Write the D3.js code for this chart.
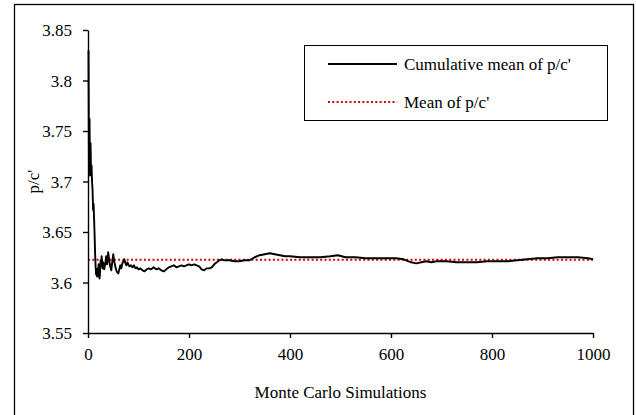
<!DOCTYPE html>
<html>
<head>
<meta charset="utf-8">
<script src="https://cdn.jsdelivr.net/npm/d3@7/dist/d3.min.js"></script>
<style>
  html, body { margin: 0; padding: 0; background: #fff; }
  svg { display: block; }
  svg text { font-family: "Liberation Serif", "DejaVu Serif", serif !important; fill: #000; }
</style>
</head>
<body>
<svg id="chart" width="636" height="415"></svg>
<script>
// ---- data ----
const simIndex = [1,2,3,4,5,6,7,8,9,10,11,12,13,14,15,16,17,18,19,20,21,22,23,24,25,26,27,28,29,30,
  32,34,36,38,40,42,44,46,48,50,52,54,56,58,60,62,64,66,68,70,72,74,76,78,80,82,85,88,91,94,97,100,
  104,108,112,116,120,125,130,135,140,145,150,155,160,165,170,175,180,185,190,195,200,205,210,215,220,
  225,230,235,240,245,250,255,260,265,270,280,290,300,310,320,330,340,350,360,370,380,390,400,420,440,
  460,480,495,510,530,550,570,590,610,625,640,650,660,670,680,690,710,730,750,770,790,810,830,850,870,
  890,910,930,950,970,990,1000];
const cumMean = [3.830,3.712,3.762,3.706,3.738,3.710,3.716,3.700,3.692,3.672,3.678,3.664,3.648,3.630,3.616,
  3.608,3.612,3.606,3.614,3.610,3.618,3.606,3.604,3.612,3.622,3.616,3.626,3.618,3.614,3.620,
  3.613,3.618,3.626,3.618,3.630,3.622,3.616,3.612,3.620,3.628,3.621,3.616,3.612,3.610,3.609,3.613,3.617,
  3.614,3.619,3.621,3.623,3.619,3.617,3.620,3.618,3.616,3.617,3.615,3.617,3.614,3.615,3.613,
  3.614,3.612,3.611,3.613,3.614,3.613,3.615,3.613,3.614,3.612,3.611,3.613,3.615,3.616,3.617,3.615,
  3.616,3.617,3.616,3.617,3.618,3.617,3.618,3.617,3.616,3.613,3.612,3.614,3.614,3.615,3.618,3.620,
  3.622,3.623,3.622,3.622,3.621,3.621,3.622,3.622,3.625,3.627,3.628,3.629,3.628,3.627,3.626,3.626,
  3.625,3.625,3.625,3.626,3.627,3.625,3.625,3.624,3.624,3.624,3.624,3.623,3.620,3.619,3.620,3.621,
  3.620,3.621,3.621,3.620,3.620,3.620,3.621,3.621,3.621,3.622,3.623,3.624,3.624,3.625,3.625,3.625,
  3.624,3.623];
const overallMean = 3.6225;
const xTicks = [0, 200, 400, 600, 800, 1000];
const yTicks = [3.55, 3.6, 3.65, 3.7, 3.75, 3.8, 3.85];
const yTickLabels = ["3.55", "3.6", "3.65", "3.7", "3.75", "3.8", "3.85"];
const seriesNames = ["Cumulative mean of p/c'", "Mean of p/c'"];
const xTitle = "Monte Carlo Simulations";
const yTitle = "p/c'";

// ---- drawing ----
const FONT = "'Liberation Serif', 'DejaVu Serif', serif";
const svg = d3.select("#chart").attr("font-family", FONT);
const red = "#d80000";

svg.append("rect").attr("x", 14.5).attr("y", 4.5).attr("width", 619).attr("height", 420)
  .attr("fill", "#fff").attr("stroke", "#000").attr("stroke-width", 1.3);

const x = d3.scaleLinear().domain([0, 1000]).range([88, 593]);
const y = d3.scaleLinear().domain([3.55, 3.85]).range([333, 30]);

// mean line
svg.append("line")
  .attr("x1", x(0)).attr("x2", x(1000))
  .attr("y1", y(overallMean)).attr("y2", y(overallMean))
  .attr("stroke", red).attr("stroke-width", 2).attr("stroke-dasharray", "2,2.3");

// cumulative line
const pts = simIndex.map((d, i) => [d, cumMean[i]]);
svg.append("path")
  .datum(pts)
  .attr("fill", "none").attr("stroke", "#000").attr("stroke-width", 1.9)
  .attr("stroke-linejoin", "round")
  .attr("d", d3.line().x(d => x(d[0])).y(d => y(d[1])));

// axes
const xAxis = svg.append("g").attr("transform", "translate(0,333)")
  .call(d3.axisBottom(x).tickValues(xTicks).tickSize(5).tickPadding(10).tickSizeOuter(0).tickFormat(d3.format("d")));
const yAxis = svg.append("g").attr("transform", "translate(88,0)")
  .call(d3.axisLeft(y).tickValues(yTicks).tickSize(5).tickPadding(11).tickSizeOuter(0)
    .tickFormat((d, i) => yTickLabels[i]));
[xAxis, yAxis].forEach(g => {
  g.attr("font-family", FONT).attr("font-size", 17);
  g.selectAll("path.domain").attr("stroke", "#000").attr("stroke-width", 1.4);
  g.selectAll(".tick line").attr("stroke", "#000").attr("stroke-width", 1.4);
  g.selectAll(".tick text").attr("fill", "#000").attr("font-family", FONT).attr("font-size", 17);
});
yAxis.selectAll(".tick text").attr("dy", "0.34em");

// titles
svg.append("text").attr("x", (x(0) + x(1000)) / 2).attr("y", 398)
  .attr("text-anchor", "middle").attr("font-family", FONT).attr("font-size", 17).text(xTitle);
svg.append("text").attr("transform", `translate(39,${(y(3.55) + y(3.85)) / 2}) rotate(-90)`)
  .attr("text-anchor", "middle").attr("font-family", FONT).attr("font-size", 17).text(yTitle);

// legend
const lg = svg.append("g");
lg.append("rect").attr("x", 304.5).attr("y", 45.5).attr("width", 303).attr("height", 75)
  .attr("fill", "#fff").attr("stroke", "#000").attr("stroke-width", 1);
lg.append("line").attr("x1", 328).attr("x2", 397).attr("y1", 64).attr("y2", 64)
  .attr("stroke", "#000").attr("stroke-width", 1.9);
lg.append("line").attr("x1", 328).attr("x2", 397).attr("y1", 102).attr("y2", 102)
  .attr("stroke", red).attr("stroke-width", 2).attr("stroke-dasharray", "2,2.3");
lg.append("text").attr("x", 404).attr("y", 70).attr("font-family", FONT).attr("font-size", 17).text(seriesNames[0]);
lg.append("text").attr("x", 404).attr("y", 108).attr("font-family", FONT).attr("font-size", 17).text(seriesNames[1]);
</script>
</body>
</html>
